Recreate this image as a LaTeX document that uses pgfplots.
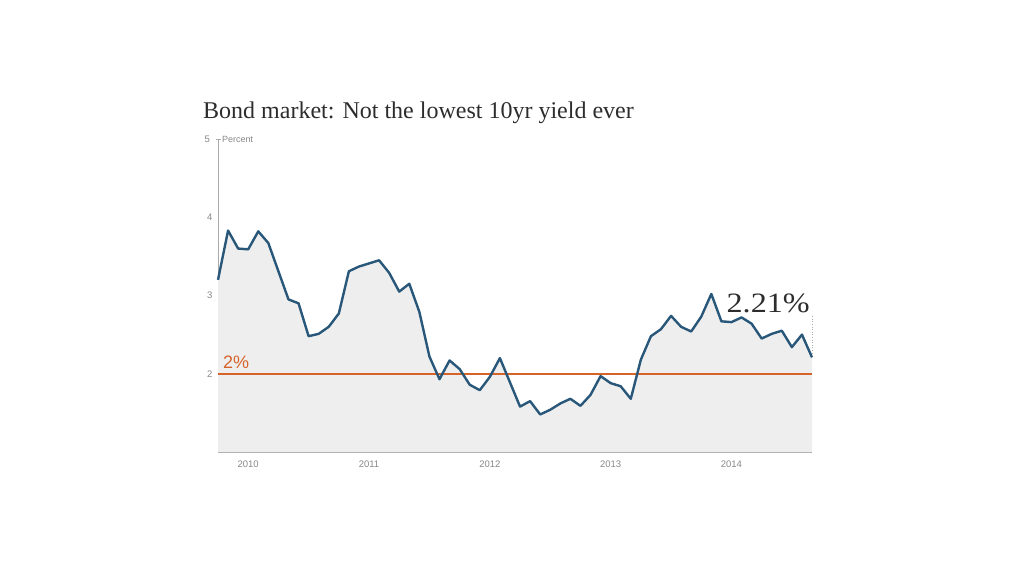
\documentclass[border=0pt]{standalone}
\usepackage{pgfplots}
\pgfplotsset{compat=1.18}
\usepackage{pgfplotstable}
\usepackage{fontspec}
\setmainfont{Liberation Serif}
\newfontfamily\lsans{Liberation Sans}
\definecolor{lineblue}{RGB}{40,87,121}
\definecolor{fillgrey}{RGB}{238,238,238}
\definecolor{orangeline}{RGB}{214,100,42}
\definecolor{labelgrey}{RGB}{136,136,136}
\definecolor{axisgrey}{RGB}{170,170,170}
\definecolor{titlegrey}{RGB}{45,45,45}

\pgfplotstableread{
i  y
0  3.20
1  3.83
2  3.60
3  3.59
4  3.82
5  3.67
6  3.31
7  2.95
8  2.90
9  2.48
10 2.51
11 2.60
12 2.77
13 3.31
14 3.37
15 3.41
16 3.45
17 3.29
18 3.05
19 3.15
20 2.79
21 2.22
22 1.93
23 2.17
24 2.06
25 1.86
26 1.79
27 1.96
28 2.20
29 1.89
30 1.58
31 1.65
32 1.48
33 1.54
34 1.62
35 1.68
36 1.59
37 1.73
38 1.97
39 1.88
40 1.84
41 1.68
42 2.18
43 2.48
44 2.57
45 2.74
46 2.60
47 2.54
48 2.73
49 3.02
50 2.67
51 2.66
52 2.72
53 2.64
54 2.45
55 2.51
56 2.55
57 2.34
58 2.50
59 2.21
}\yields

\begin{document}
\begin{tikzpicture}[x=1pt,y=1pt]
\useasboundingbox (0,0) rectangle (1024,576);
\node[anchor=base west, inner sep=0pt, text=titlegrey,
      font=\fontsize{24}{28}\selectfont] at (203,576-119)
      {Bond market: Not the lowest 10yr yield ever};
\begin{axis}[
  at={(218pt,124pt)}, anchor=south west,
  scale only axis, width=594pt, height=313pt,
  xmin=0, xmax=59, ymin=1, ymax=5,
  axis x line*=bottom, axis y line*=left,
  axis line style={draw=axisgrey, line width=1pt, -},
  xtick={3,15,27,39,51},
  xticklabels={2010,2011,2012,2013,2014},
  ytick={2,3,4},
  yticklabels={2,3,4},
  major tick length=0pt,
  extra y ticks={5},
  extra y tick labels={5},
  extra tick style={major tick length=5pt, tick align=center,
     tick style={draw=axisgrey, line width=0.8pt}},
  tick label style={font=\lsans\fontsize{9.5}{10}\selectfont, text=labelgrey},
  xticklabel style={yshift=-5pt},
  yticklabel style={xshift=-2pt},
  clip=false,
]
\addplot[fill=fillgrey, draw=none] table[x=i, y=y] {\yields} \closedcycle;
\addplot[orangeline, line width=1.8pt] coordinates {(0,2) (59,2)};
\addplot[lineblue, line width=2.4pt, line join=round] table[x=i, y=y] {\yields};
\draw[axisgrey, dotted, line width=0.6pt] (axis cs:59,2.23) -- (axis cs:59,2.74);
\node[anchor=west, inner sep=0pt, text=labelgrey, font=\lsans\fontsize{9}{10}\selectfont]
  at (axis cs:0,5) [xshift=4pt] {Percent};
\node[anchor=base west, inner sep=0pt, text=orangeline, font=\lsans\fontsize{18}{20}\selectfont]
  at (axis cs:0,2) [xshift=5pt, yshift=5pt] {2\%};
\node[anchor=base east, inner sep=0pt, text=titlegrey, font=\fontsize{28}{30}\selectfont]
  at (axis cs:59,2.78) [xshift=-2pt] {\scalebox{1.15}[1]{2.21\%}};
\end{axis}
\end{tikzpicture}
\end{document}
